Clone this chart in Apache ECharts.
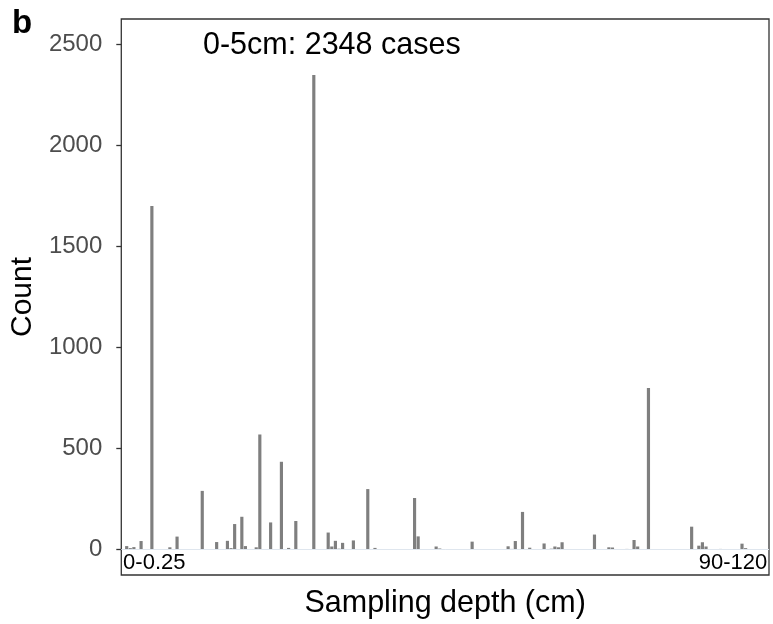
<!DOCTYPE html>
<html>
<head>
<meta charset="utf-8">
<script src="https://cdn.jsdelivr.net/npm/echarts@6/dist/echarts.min.js"></script>
<style>
  html, body { margin: 0; padding: 0; background: #ffffff; }
  #chart { width: 773px; height: 624px; }
</style>
</head>
<body>
<div id="chart"></div>
<script>
// ---- data ----
const firstLabel = '0-0.25';
const lastLabel = '90-120';
const counts = [
  0, 18, 8, 13, 0, 43, 0, 0, 1700, 0, 0, 0, 3, 12, 0, 65, 0, 0, 0, 0,
  0, 0, 291, 0, 2, 0, 38, 0, 0, 44, 8, 127, 0, 163, 18, 0, 0, 12, 570, 3,
  2, 135, 0, 0, 435, 2, 9, 0, 142, 2, 0, 2, 0, 2348, 2, 0, 0, 85, 16, 44,
  5, 34, 0, 0, 46, 1, 1, 2, 300, 0, 9, 0, 0, 3, 0, 3, 0, 1, 0, 1,
  0, 256, 66, 3, 2, 2, 0, 16, 6, 0, 0, 0, 1, 1, 1, 1, 1, 40, 0, 2,
  0, 0, 2, 0, 2, 0, 0, 17, 4, 43, 0, 187, 0, 10, 0, 2, 0, 31, 0, 5,
  16, 12, 37, 3, 2, 2, 0, 0, 0, 0, 0, 75, 0, 0, 0, 12, 11, 0, 0, 0,
  4, 3, 48, 16, 0, 0, 800, 3, 0, 0, 3, 0, 2, 0, 0, 2, 0, 0, 114, 0,
  20, 37, 16, 0, 0, 0, 4, 0, 2, 1, 0, 0, 30, 8, 0, 0, 0, 2, 0, 0
];
const categories = counts.map((v, i) =>
  i === 0 ? firstLabel : (i === counts.length - 1 ? lastLabel : 'depth class ' + (i + 1)));
const yTicks = [0, 500, 1000, 1500, 2000, 2500];
const annotationText = '0-5cm: 2348 cases';
const panelTag = 'b';

const FONT = '"Liberation Sans", Arial, sans-serif';
const chart = echarts.init(document.getElementById('chart'), null, { renderer: 'canvas' });

chart.setOption({
  animation: false,
  backgroundColor: '#ffffff',
  grid: {
    left: 120, top: 19, width: 649, height: 558,
    show: true, borderColor: '#333333', borderWidth: 1.3, backgroundColor: 'transparent'
  },
  xAxis: {
    type: 'category',
    data: categories,
    boundaryGap: true,
    axisLine: { show: false },
    axisTick: { show: false },
    axisLabel: {
      inside: true,
      margin: 1,
      interval: (idx) => idx === 0 || idx === categories.length - 1,
      alignMinLabel: 'left',
      alignMaxLabel: 'right',
      color: '#000000',
      fontSize: 22,
      fontFamily: FONT
    },
    name: 'Sampling depth (cm)',
    nameLocation: 'middle',
    nameGap: 13,
    nameTextStyle: { fontSize: 30.5, color: '#000000', fontFamily: FONT, verticalAlign: 'top' },
    splitLine: { show: false }
  },
  yAxis: {
    type: 'value',
    min: -125,
    max: 2625,
    axisLine: { show: false },
    axisTick: { show: true, length: 5, lineStyle: { color: '#333333', width: 1.3 }, customValues: yTicks },
    axisLabel: {
      customValues: yTicks,
      formatter: (v) => String(v),
      margin: 19,
      color: '#4D4D4D',
      fontSize: 24,
      fontFamily: FONT
    },
    splitLine: { show: false },
    name: 'Count',
    nameLocation: 'middle',
    nameGap: 80,
    nameRotate: 90,
    nameTextStyle: { fontSize: 30, color: '#000000', fontFamily: FONT }
  },
  series: [{
    type: 'bar',
    data: counts,
    barWidth: '88%',
    itemStyle: { color: '#7f7f7f' },
    markLine: {
      silent: true,
      symbol: 'none',
      label: { show: false },
      lineStyle: { color: '#dfe6ee', width: 1, type: 'solid' },
      data: [{ yAxis: 0 }]
    }
  }],
  graphic: [
    {
      type: 'text', left: 203, top: 30,
      style: { text: annotationText, fontSize: 30.5, fill: '#000000', fontFamily: FONT }
    },
    {
      type: 'text', left: 12, top: 7,
      style: { text: panelTag, fontSize: 33, fontWeight: 'bold', fill: '#000000', fontFamily: FONT }
    }
  ]
});
</script>
</body>
</html>
